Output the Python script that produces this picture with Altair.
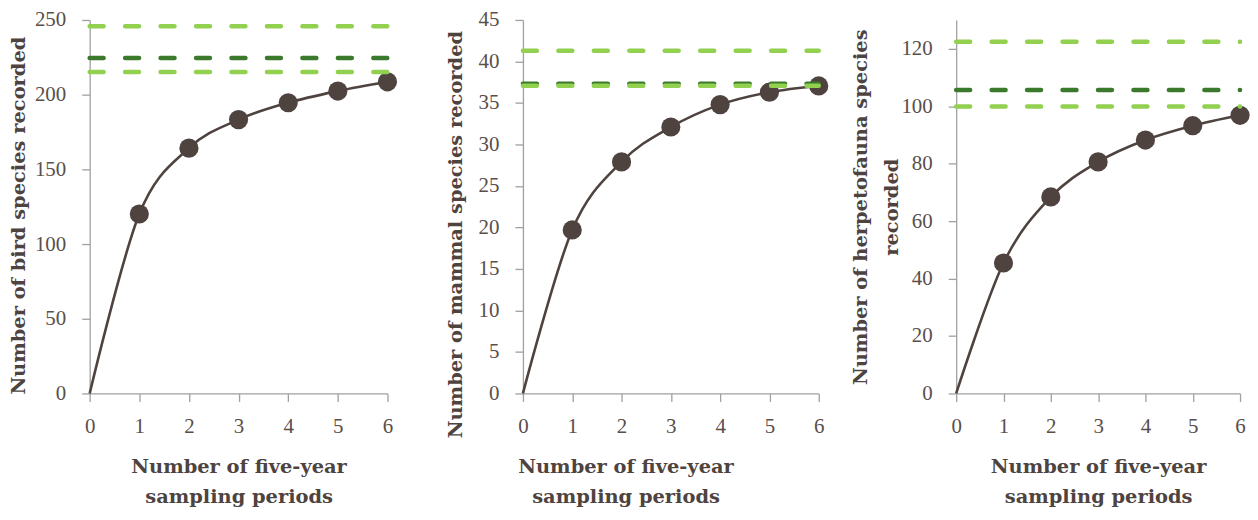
import altair as alt
import pandas as pd

periods = [0, 1, 2, 3, 4, 5, 6]
birds = [0, 120.1, 164.2, 183.3, 194.6, 202.4, 208.6]
mammals = [0, 19.7, 27.9, 32.1, 34.8, 36.3, 37.05]
herps = [0, 45.4, 68.4, 80.6, 88.2, 93.2, 96.8]

ref_kinds = ["estimate", "upper", "lower"]
bird_refs = [224.5, 245.8, 215.2]
mammal_refs = [37.33, 41.3, 37.07]
herp_refs = [105.6, 122.4, 99.9]

bird_ticks = [0, 50, 100, 150, 200, 250]
mammal_ticks = [0, 5, 10, 15, 20, 25, 30, 35, 40, 45]
herp_ticks = [0, 20, 40, 60, 80, 100, 120]

INK = "#4e433f"
DARK_GREEN = "#3b7a2d"
LIGHT_GREEN = "#92d050"
ref_colors = {"estimate": DARK_GREEN, "upper": LIGHT_GREEN, "lower": LIGHT_GREEN}

X_TITLE = ["Number of five-year", "sampling periods"]


def panel(values, refs, ymax, yticks, ytitle, width, height,
          ytitle_y=None, xtitle_x=None, ytitle_pad=4):
    df = pd.DataFrame({"x": periods, "y": values})
    pts = df[df["x"] > 0]
    rdf = pd.DataFrame({
        "x1": [periods[0]] * len(refs),
        "x2": [periods[-1]] * len(refs),
        "y": refs,
        "c": [ref_colors[k] for k in ref_kinds],
    })
    xaxis_kw = dict(values=periods, title=X_TITLE)
    if xtitle_x is not None:
        xaxis_kw["titleX"] = xtitle_x
    yaxis_kw = dict(values=yticks, title=ytitle, titlePadding=ytitle_pad)
    if ytitle_y is not None:
        yaxis_kw["titleY"] = ytitle_y
    xenc = alt.X("x:Q", scale=alt.Scale(domain=[0, 6], nice=False),
                 axis=alt.Axis(**xaxis_kw))
    yenc = alt.Y("y:Q", scale=alt.Scale(domain=[0, ymax], nice=False),
                 axis=alt.Axis(**yaxis_kw))
    line = alt.Chart(df).mark_line(interpolate="cardinal", strokeWidth=2.6,
                                   color=INK).encode(x=xenc, y=yenc)
    dots = alt.Chart(pts).mark_circle(size=370, opacity=1, color=INK).encode(
        x="x:Q", y="y:Q")
    rules = alt.Chart(rdf).mark_rule(strokeWidth=4.5, strokeDash=[14, 21.6],
                                     strokeCap="round").encode(
        x="x1:Q", x2="x2:Q", y="y:Q", color=alt.Color("c:N", scale=None))
    return alt.layer(line, dots, rules).properties(width=width, height=height)


p1 = panel(birds, bird_refs, 250, bird_ticks,
           "Number of bird species recorded", 299, 375, ytitle_y=196,
           ytitle_pad=6)
p2 = panel(mammals, mammal_refs, 45, mammal_ticks,
           "Number of mammal species recorded", 297, 375, ytitle_y=215,
           xtitle_x=103, ytitle_pad=13)
p3 = panel(herps, herp_refs, 130, herp_ticks,
           ["Number of herpetofauna species", "recorded"], 285, 375,
           ytitle_pad=-1)

chart = alt.hconcat(alt.hconcat(p1, p2, spacing=48), p3, spacing=21).properties(
    padding={"left": 0, "top": 0, "right": 0, "bottom": 0}
).configure_view(stroke=None).configure_axis(
    grid=False,
    domainColor="#a0a0a0",
    domainWidth=1.3,
    tickColor="#a0a0a0",
    tickWidth=1.3,
    tickSize=8,
    labelFont="Liberation Serif",
    labelFontSize=21,
    labelColor="#5a4f4b",
    labelPadding=14,
    titleFont="DejaVu Serif",
    titleFontSize=19.5,
    titleFontWeight="bold",
    titleColor=INK,
    titleLineHeight=30,
).configure_axisX(
    titlePadding=21,
    labelFlush=False,
).configure_axisY(
    titleLineHeight=32,
    labelPadding=16,
)

chart.save("out.html", embed_options={"renderer": "svg", "actions": False})
